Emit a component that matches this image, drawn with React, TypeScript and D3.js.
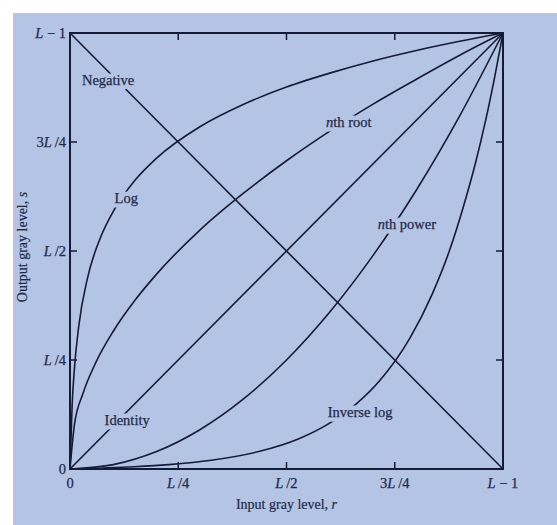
import React from "react";
import * as d3 from "d3";

// ---- data (fractions of L-1) ----
const logR = [0, 0.005, 0.01, 0.02, 0.04, 0.07, 0.1, 0.15, 0.2, 0.3, 0.4, 0.5, 0.6, 0.7, 0.8, 0.9, 1];
const logS = [0, 0.148, 0.228, 0.326, 0.436, 0.53, 0.591, 0.662, 0.713, 0.785, 0.836, 0.876, 0.908, 0.936, 0.96, 0.981, 1];
const invLogR = [0, 0.148, 0.228, 0.326, 0.436, 0.53, 0.591, 0.662, 0.713, 0.785, 0.836, 0.876, 0.908, 0.936, 0.96, 0.981, 1];
const invLogS = [0, 0.005, 0.01, 0.02, 0.04, 0.07, 0.1, 0.15, 0.2, 0.3, 0.4, 0.5, 0.6, 0.7, 0.8, 0.9, 1];
const rootR = [0, 0.01, 0.03, 0.06, 0.1, 0.15, 0.2, 0.3, 0.4, 0.5, 0.6, 0.7, 0.8, 0.9, 1];
const rootS = [0, 0.1, 0.173, 0.245, 0.316, 0.387, 0.447, 0.548, 0.632, 0.707, 0.775, 0.837, 0.894, 0.949, 1];
const powerR = [0, 0.1, 0.2, 0.3, 0.4, 0.5, 0.6, 0.7, 0.8, 0.9, 1];
const powerS = [0, 0.01, 0.04, 0.09, 0.16, 0.25, 0.36, 0.49, 0.64, 0.81, 1];
const identityR = [0, 1];
const identityS = [0, 1];
const negativeR = [0, 1];
const negativeS = [1, 0];

const tickValues = [0, 0.25, 0.5, 0.75, 1];
const tickLabels: [string, string, string][] = [
  ["0", "", ""],
  ["", "L", "\u2009/4"],
  ["", "L", "\u2009/2"],
  ["3", "L", "\u2009/4"],
  ["", "L", "\u00a0\u2212\u00a01"],
];

// label anchors in data coords
const curveLabels = [
  { text: ["", "Negative"], r: 0.088, s: 0.892 },
  { text: ["", "Log"], r: 0.13, s: 0.622 },
  { text: ["n", "th root"], r: 0.644, s: 0.797 },
  { text: ["", "Identity"], r: 0.132, s: 0.112 },
  { text: ["n", "th power"], r: 0.778, s: 0.561 },
  { text: ["", "Inverse log"], r: 0.67, s: 0.131 },
];

const W = 557;
const H = 525;
const BG = "#b4c4e4";
const INK = "#151b36";
const TXT = "#222a48";
const FONT = "'Liberation Serif', 'Times New Roman', serif";

export default function App() {
  const x = d3.scaleLinear().domain([0, 1]).range([70, 503]);
  const y = d3.scaleLinear().domain([0, 1]).range([469, 33]);

  const mk = (rs: number[], ss: number[], curve: d3.CurveFactory) =>
    d3
      .line<number>()
      .x((_, i) => x(rs[i]))
      .y((_, i) => y(ss[i]))
      .curve(curve)(rs) as string;

  const curves = [
    mk(logR, logS, d3.curveMonotoneX),
    mk(invLogR, invLogS, d3.curveMonotoneX),
    mk(rootR, rootS, d3.curveMonotoneX),
    mk(powerR, powerS, d3.curveMonotoneX),
    mk(identityR, identityS, d3.curveLinear),
    mk(negativeR, negativeS, d3.curveLinear),
  ];

  const labelText = (l: { text: string[] }) => (
    <>
      {l.text[0] && <tspan fontStyle="italic">{l.text[0]}</tspan>}
      <tspan>{l.text[1]}</tspan>
    </>
  );

  return (
    <svg
      width={W}
      height={H}
      style={{ position: "absolute", left: 0, top: 0, display: "block" }}
      fontFamily={FONT}
    >
      <rect x={0} y={0} width={W} height={H} fill="#ffffff" />
      <rect x={13} y={13} width={W - 13} height={H - 13} fill={BG} />
      <defs>
        <mask id="lblmask" maskUnits="userSpaceOnUse" x={0} y={0} width={W} height={H}>
          <rect x={0} y={0} width={W} height={H} fill="white" />
          {curveLabels.map((l, i) => (
            <text
              key={i}
              x={x(l.r)}
              y={y(l.s)}
              dy="0.35em"
              textAnchor="middle"
              fontSize={14.5}
              fill="black"
              stroke="black"
              strokeWidth={9}
              strokeLinejoin="round"
            >
              {labelText(l)}
            </text>
          ))}
        </mask>
      </defs>

      <g mask="url(#lblmask)" fill="none" stroke={INK} strokeWidth={1.6}>
        {curves.map((d, i) => (
          <path key={i} d={d} />
        ))}
      </g>

      {/* frame */}
      <rect
        x={x(0)}
        y={y(1)}
        width={x(1) - x(0)}
        height={y(0) - y(1)}
        fill="none"
        stroke={INK}
        strokeWidth={2}
      />
      {/* ticks inward on all sides */}
      <g stroke={INK} strokeWidth={1.5}>
        {tickValues.slice(1, 4).map((t, i) => (
          <g key={i}>
            <line x1={x(t)} x2={x(t)} y1={y(0)} y2={y(0) - 7} />
            <line x1={x(t)} x2={x(t)} y1={y(1)} y2={y(1) + 7} />
            <line x1={x(0)} x2={x(0) + 7} y1={y(t)} y2={y(t)} />
            <line x1={x(1)} x2={x(1) - 7} y1={y(t)} y2={y(t)} />
          </g>
        ))}
      </g>

      {/* tick labels */}
      <g fill={TXT} fontSize={14.5} stroke={TXT} strokeWidth={0.25}>
        {tickValues.map((t, i) => (
          <text key={"x" + i} x={x(t)} y={y(0) + 19} textAnchor="middle">
            {tickLabels[i][0]}
            {tickLabels[i][1] && <tspan fontStyle="italic">{tickLabels[i][1]}</tspan>}
            {tickLabels[i][2]}
          </text>
        ))}
        {tickValues.map((t, i) => (
          <text key={"y" + i} x={66} y={y(t)} dy="0.35em" textAnchor="end">
            {tickLabels[i][0]}
            {tickLabels[i][1] && <tspan fontStyle="italic">{tickLabels[i][1]}</tspan>}
            {tickLabels[i][2]}
          </text>
        ))}
      </g>

      {/* curve labels */}
      <g fill={TXT} fontSize={14.5} stroke={TXT} strokeWidth={0.25}>
        {curveLabels.map((l, i) => (
          <text key={i} x={x(l.r)} y={y(l.s)} dy="0.35em" textAnchor="middle">
            {labelText(l)}
          </text>
        ))}
      </g>

      {/* axis titles */}
      <g fill={TXT} fontSize={14} stroke={TXT} strokeWidth={0.2}>
        <text x={(x(0) + x(1)) / 2} y={509} textAnchor="middle">
          Input gray level, <tspan fontStyle="italic">r</tspan>
        </text>
        <text transform={`translate(27, ${247}) rotate(-90)`} textAnchor="middle">
          Output gray level, <tspan fontStyle="italic">s</tspan>
        </text>
      </g>
    </svg>
  );
}
